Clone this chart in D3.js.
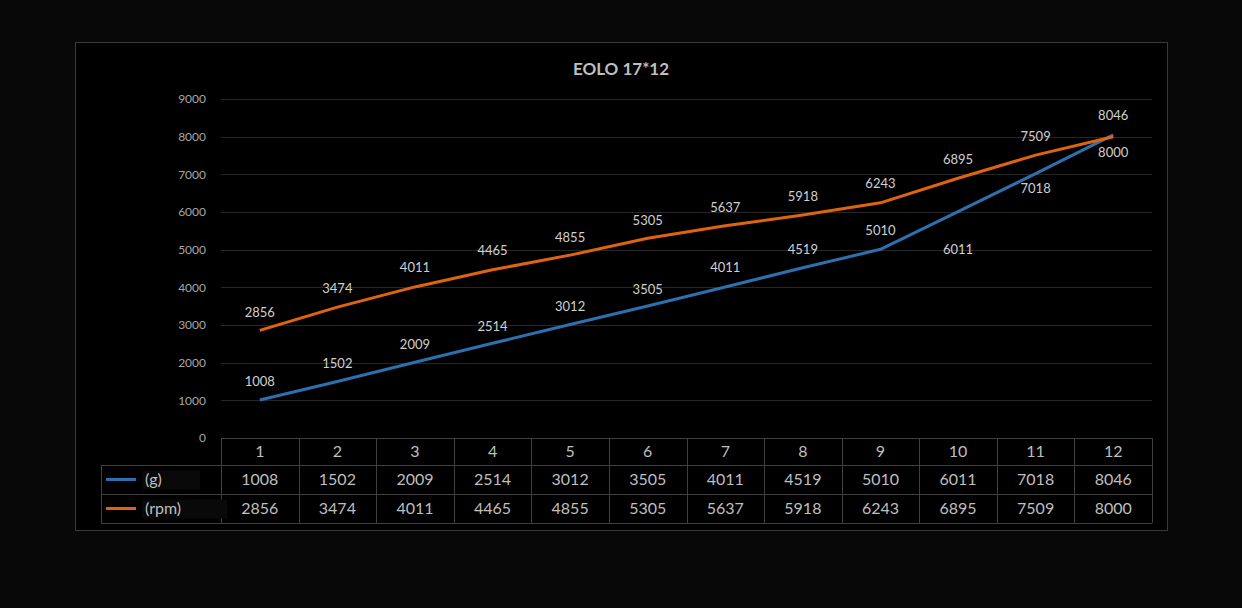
<!DOCTYPE html>
<html><head><meta charset="utf-8">
<script src="https://cdn.jsdelivr.net/npm/d3@7"></script>
<style>html,body{margin:0;padding:0;background:#080808;}svg{display:block;}</style>
</head><body><svg id="c" width="1242" height="608"></svg>
<script>
const categories = ["1","2","3","4","5","6","7","8","9","10","11","12"];
const gValues = [1008,1502,2009,2514,3012,3505,4011,4519,5010,6011,7018,8046];
const rpmValues = [2856,3474,4011,4465,4855,5305,5637,5918,6243,6895,7509,8000];
const yTicks = [0,1000,2000,3000,4000,5000,6000,7000,8000,9000];
const seriesNames = ["(g)","(rpm)"];
const title = "EOLO 17*12";

// style: label vertical offsets (px from point)
const gLabelDy = [-19,-18,-18,-17,-18,-17,-19,-18,-19,38,15,-19];
const rpmLabelDy = [-18,-19,-19,-19,-18,-18,-18,-19,-19,-19,-19,16];
const colors = ["#2e6fae","#e0640f"];
const font = "Lato, 'Open Sans', sans-serif";

const svg = d3.select("#c");
const L=221, R=1152, T=99, B=438;
svg.append("rect").attr("x",75.5).attr("y",42.5).attr("width",1092).attr("height",488)
  .attr("fill","#000").attr("stroke","#3a3a3a");

svg.append("text").attr("x",621).attr("y",75).attr("text-anchor","middle")
  .attr("font-family",font).attr("font-weight","bold").attr("font-size",17).attr("fill","#bfbfbf").text(title);

const x = d3.scaleBand().domain(categories).range([L,R]);
const y = d3.scaleLinear().domain([0,9000]).range([B,T]);

// grid
svg.append("g").selectAll("line").data(yTicks.filter(d=>d>0)).join("line")
  .attr("x1",L).attr("x2",R).attr("y1",d=>Math.round(y(d))+0.5).attr("y2",d=>Math.round(y(d))+0.5)
  .attr("stroke","#262626").attr("stroke-width",1);

// y axis labels
const ya = svg.append("g").attr("transform",`translate(${L},0)`)
  .call(d3.axisLeft(y).tickValues(yTicks).tickFormat(d3.format("d")).tickSize(0).tickPadding(15));
ya.select(".domain").remove();
ya.selectAll("text").attr("font-family",font).attr("font-size",12).attr("fill","#a6a6a6");

// lines
const series=[gValues,rpmValues];
const line = d3.line().x((d,i)=>x(categories[i])+x.bandwidth()/2).y(d=>y(d));
series.forEach((s,k)=>{
  svg.append("path").datum(s).attr("d",line).attr("fill","none")
    .attr("stroke",colors[k]).attr("stroke-width",3).attr("stroke-linejoin","round");
});
// labels
const dys=[gLabelDy,rpmLabelDy];
series.forEach((s,k)=>{
  svg.append("g").selectAll("text").data(s).join("text")
    .attr("x",(d,i)=>x(categories[i])+x.bandwidth()/2)
    .attr("y",(d,i)=>y(d)+dys[k][i])
    .attr("dy","0.35em").attr("text-anchor","middle")
    .attr("font-family",font).attr("font-size",13).attr("fill","#d0d0d0").text(d=>d);
});

// data table
const rows=[B,465,494,523];
const tg = svg.append("g");
const gridCol="#3f3f3f";
tg.append("line").attr("x1",L).attr("x2",R).attr("y1",B+0.5).attr("y2",B+0.5).attr("stroke",gridCol);
[465,494,523].forEach(r=>tg.append("line").attr("x1",101).attr("x2",R).attr("y1",r+0.5).attr("y2",r+0.5).attr("stroke",gridCol));
categories.forEach(c=>tg.append("line").attr("x1",Math.round(x(c))+0.5).attr("x2",Math.round(x(c))+0.5).attr("y1",B).attr("y2",523).attr("stroke",gridCol));
tg.append("line").attr("x1",R+0.5).attr("x2",R+0.5).attr("y1",B).attr("y2",523).attr("stroke",gridCol);
tg.append("line").attr("x1",101.5).attr("x2",101.5).attr("y1",465).attr("y2",523).attr("stroke",gridCol);

tg.selectAll(".h").data(categories).join("text").attr("class","h")
  .attr("x",d=>x(d)+x.bandwidth()/2).attr("y",(B+465)/2).attr("dy","0.35em").attr("text-anchor","middle")
  .attr("font-family",font).attr("font-size",16).attr("fill","#bfbfbf").text(d=>d);
series.forEach((s,k)=>{
  const cy=(rows[k+1]+rows[k+2])/2;
  tg.append("g").selectAll("text").data(s).join("text")
    .attr("x",(d,i)=>x(categories[i])+x.bandwidth()/2).attr("y",cy).attr("dy","0.35em").attr("text-anchor","middle")
    .attr("font-family",font).attr("font-size",16).attr("fill","#bfbfbf").text(d=>d);
  tg.append("rect").attr("x",142).attr("y",cy-9).attr("width",k?85:58).attr("height",19).attr("fill","#090909");
  tg.append("line").attr("x1",106).attr("x2",136).attr("y1",cy).attr("y2",cy)
    .attr("stroke",colors[k]).attr("stroke-width",3);
  tg.append("text").attr("x",145).attr("y",cy).attr("dy","0.35em")
    .attr("font-family",font).attr("font-size",16).attr("fill","#bfbfbf").text(seriesNames[k]);
});
</script></body></html>
